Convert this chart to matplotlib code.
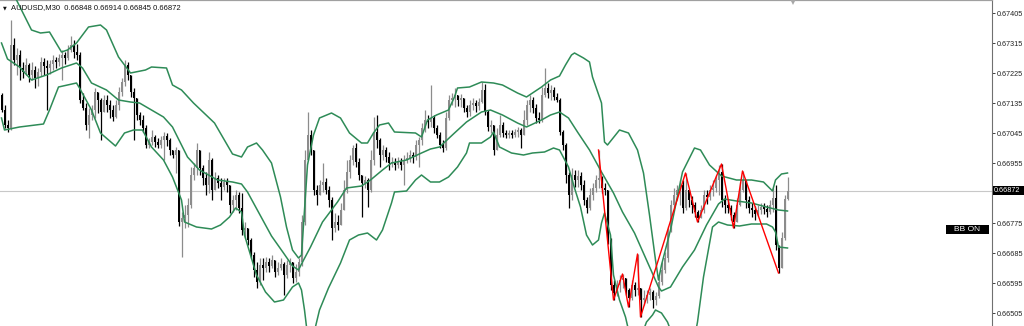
import numpy as np
import matplotlib
matplotlib.use("Agg")
import matplotlib.pyplot as plt
from matplotlib.patches import Rectangle
import matplotlib.transforms as mtransforms

symbol = "AUDUSD,M30"
first_open = 0.67159

close = [
    0.67114, 0.67069, 0.67060, 0.67309, 0.67264, 0.67279, 0.67240, 0.67228, 0.67249, 0.67219,
    0.67234, 0.67210, 0.67228, 0.67258, 0.67246, 0.67240, 0.67252, 0.67264, 0.67258, 0.67270,
    0.67279, 0.67270, 0.67294, 0.67309, 0.67288, 0.67279, 0.67144, 0.67120, 0.67069, 0.67099,
    0.67114, 0.67168, 0.67144, 0.67108, 0.67144, 0.67129, 0.67114, 0.67093, 0.67129, 0.67168,
    0.67198, 0.67249, 0.67219, 0.67168, 0.67150, 0.67099, 0.67084, 0.67060, 0.67009, 0.67018,
    0.67033, 0.67018, 0.67009, 0.67024, 0.67036, 0.67024, 0.66994, 0.66979, 0.66994, 0.66778,
    0.66790, 0.66799, 0.66829, 0.66919, 0.66940, 0.66994, 0.66940, 0.66910, 0.66889, 0.66964,
    0.66874, 0.66910, 0.66895, 0.66883, 0.66898, 0.66889, 0.66829, 0.66844, 0.66859, 0.66820,
    0.66754, 0.66760, 0.66724, 0.66679, 0.66634, 0.66598, 0.66649, 0.66640, 0.66658, 0.66646,
    0.66664, 0.66628, 0.66640, 0.66652, 0.66619, 0.66649, 0.66658, 0.66610, 0.66628, 0.66658,
    0.66778, 0.66964, 0.67039, 0.66994, 0.66874, 0.66859, 0.66889, 0.66898, 0.66874, 0.66844,
    0.66760, 0.66778, 0.66769, 0.66814, 0.66874, 0.66928, 0.66964, 0.67000, 0.66958, 0.66919,
    0.66895, 0.66904, 0.66874, 0.66964, 0.67048, 0.67024, 0.66979, 0.66994, 0.66973, 0.66955,
    0.66958, 0.66949, 0.66958, 0.66949, 0.66964, 0.66970, 0.66979, 0.66973, 0.67009, 0.67024,
    0.67060, 0.67084, 0.67078, 0.67090, 0.67060, 0.67039, 0.67009, 0.67000, 0.67090, 0.67144,
    0.67150, 0.67159, 0.67144, 0.67150, 0.67120, 0.67108, 0.67129, 0.67135, 0.67126, 0.67138,
    0.67174, 0.67108, 0.67063, 0.67069, 0.66994, 0.67039, 0.67069, 0.67045, 0.67039, 0.67045,
    0.67039, 0.67048, 0.67054, 0.67039, 0.67084, 0.67129, 0.67144, 0.67120, 0.67090, 0.67084,
    0.67159, 0.67180, 0.67165, 0.67174, 0.67153, 0.67144, 0.67048, 0.67009, 0.66919, 0.66859,
    0.66919, 0.66904, 0.66916, 0.66889, 0.66844, 0.66820, 0.66859, 0.66880, 0.66904, 0.66910,
    0.66880, 0.66874, 0.66724, 0.66589, 0.66565, 0.66589, 0.66604, 0.66610, 0.66574, 0.66550,
    0.66589, 0.66574, 0.66580, 0.66544, 0.66550, 0.66559, 0.66568, 0.66544, 0.66556, 0.66598,
    0.66634, 0.66670, 0.66754, 0.66829, 0.66859, 0.66874, 0.66889, 0.66820, 0.66874, 0.66844,
    0.66829, 0.66808, 0.66790, 0.66814, 0.66859, 0.66853, 0.66874, 0.66880, 0.66904, 0.66928,
    0.66844, 0.66829, 0.66820, 0.66799, 0.66778, 0.66829, 0.66874, 0.66904, 0.66844, 0.66820,
    0.66814, 0.66802, 0.66814, 0.66823, 0.66817, 0.66808, 0.66829, 0.66850, 0.66709, 0.66640,
    0.66730, 0.66848, 0.66872,
]

high = [
    0.67165, 0.67129, 0.67084, 0.67384, 0.67330, 0.67300, 0.67294, 0.67258, 0.67270, 0.67255,
    0.67258, 0.67246, 0.67240, 0.67273, 0.67270, 0.67264, 0.67264, 0.67279, 0.67273, 0.67282,
    0.67294, 0.67288, 0.67309, 0.67336, 0.67324, 0.67312, 0.67288, 0.67165, 0.67135, 0.67120,
    0.67129, 0.67180, 0.67168, 0.67150, 0.67159, 0.67159, 0.67144, 0.67129, 0.67144, 0.67183,
    0.67210, 0.67264, 0.67258, 0.67219, 0.67180, 0.67150, 0.67108, 0.67099, 0.67069, 0.67030,
    0.67054, 0.67039, 0.67030, 0.67036, 0.67048, 0.67045, 0.67030, 0.66994, 0.67003, 0.66994,
    0.66808, 0.66829, 0.66850, 0.66943, 0.66955, 0.67015, 0.66994, 0.66949, 0.66928, 0.66988,
    0.66970, 0.66928, 0.66919, 0.66910, 0.66910, 0.66910, 0.66889, 0.66859, 0.66874, 0.66868,
    0.66865, 0.66778, 0.66760, 0.66730, 0.66688, 0.66658, 0.66670, 0.66670, 0.66673, 0.66670,
    0.66679, 0.66664, 0.66658, 0.66670, 0.66658, 0.66664, 0.66670, 0.66658, 0.66652, 0.66670,
    0.66799, 0.66994, 0.67108, 0.67054, 0.66994, 0.66889, 0.66904, 0.66955, 0.66910, 0.66886,
    0.66853, 0.66805, 0.66799, 0.66835, 0.66904, 0.66964, 0.66979, 0.67009, 0.67015, 0.66970,
    0.66919, 0.66916, 0.66910, 0.66994, 0.67093, 0.67099, 0.67030, 0.67009, 0.67003, 0.66988,
    0.66973, 0.66970, 0.66973, 0.66970, 0.66979, 0.66988, 0.66994, 0.66988, 0.67024, 0.67033,
    0.67075, 0.67114, 0.67099, 0.67189, 0.67099, 0.67069, 0.67048, 0.67024, 0.67108, 0.67159,
    0.67165, 0.67180, 0.67159, 0.67162, 0.67150, 0.67129, 0.67144, 0.67150, 0.67144, 0.67150,
    0.67198, 0.67192, 0.67114, 0.67084, 0.67069, 0.67060, 0.67099, 0.67078, 0.67054, 0.67054,
    0.67054, 0.67057, 0.67063, 0.67060, 0.67114, 0.67144, 0.67159, 0.67153, 0.67132, 0.67108,
    0.67183, 0.67240, 0.67195, 0.67189, 0.67183, 0.67165, 0.67150, 0.67054, 0.67015, 0.66928,
    0.66940, 0.66934, 0.66934, 0.66928, 0.66904, 0.66853, 0.66880, 0.66895, 0.66919, 0.66994,
    0.66916, 0.66895, 0.66874, 0.66730, 0.66604, 0.66604, 0.66619, 0.66622, 0.66610, 0.66580,
    0.66604, 0.66598, 0.66682, 0.66574, 0.66574, 0.66574, 0.66580, 0.66574, 0.66568, 0.66616,
    0.66658, 0.66688, 0.66766, 0.66844, 0.66880, 0.66889, 0.66904, 0.66904, 0.66925, 0.66868,
    0.66856, 0.66838, 0.66814, 0.66829, 0.66874, 0.66874, 0.66889, 0.66904, 0.66919, 0.66949,
    0.66952, 0.66859, 0.66844, 0.66829, 0.66808, 0.66850, 0.66898, 0.66931, 0.66898, 0.66856,
    0.66835, 0.66826, 0.66829, 0.66835, 0.66835, 0.66829, 0.66844, 0.66880, 0.66889, 0.66709,
    0.66748, 0.66859, 0.66914,
]

low = [
    0.67108, 0.67060, 0.67048, 0.67054, 0.67249, 0.67219, 0.67204, 0.67210, 0.67219, 0.67198,
    0.67204, 0.67180, 0.67186, 0.67216, 0.67219, 0.67114, 0.67222, 0.67234, 0.67240, 0.67246,
    0.67204, 0.67252, 0.67264, 0.67288, 0.67270, 0.67264, 0.67135, 0.67114, 0.67054, 0.67030,
    0.67084, 0.67090, 0.67105, 0.67024, 0.67108, 0.67108, 0.67090, 0.67081, 0.67090, 0.67114,
    0.67156, 0.67186, 0.67204, 0.67153, 0.67024, 0.67084, 0.67069, 0.67048, 0.67000, 0.67000,
    0.67009, 0.67003, 0.67000, 0.67000, 0.66964, 0.67006, 0.66979, 0.66970, 0.66925, 0.66766,
    0.66673, 0.66760, 0.66763, 0.66820, 0.66904, 0.66919, 0.66919, 0.66889, 0.66859, 0.66865,
    0.66844, 0.66874, 0.66880, 0.66844, 0.66874, 0.66868, 0.66805, 0.66808, 0.66814, 0.66805,
    0.66739, 0.66730, 0.66709, 0.66670, 0.66613, 0.66580, 0.66589, 0.66604, 0.66628, 0.66628,
    0.66640, 0.66613, 0.66619, 0.66634, 0.66559, 0.66610, 0.66628, 0.66595, 0.66598, 0.66616,
    0.66646, 0.66769, 0.66964, 0.66979, 0.66859, 0.66829, 0.66859, 0.66868, 0.66862, 0.66823,
    0.66724, 0.66748, 0.66754, 0.66778, 0.66814, 0.66865, 0.66910, 0.66949, 0.66943, 0.66904,
    0.66793, 0.66880, 0.66823, 0.66868, 0.66949, 0.67000, 0.66943, 0.66964, 0.66958, 0.66934,
    0.66943, 0.66934, 0.66940, 0.66934, 0.66889, 0.66955, 0.66958, 0.66955, 0.66964, 0.66943,
    0.67009, 0.67048, 0.67060, 0.67063, 0.67045, 0.67030, 0.67000, 0.66988, 0.66994, 0.67084,
    0.67129, 0.67123, 0.67126, 0.67123, 0.67108, 0.67093, 0.67096, 0.67114, 0.67108, 0.67114,
    0.67135, 0.67099, 0.67051, 0.67045, 0.66979, 0.66994, 0.67033, 0.67033, 0.67030, 0.67030,
    0.67030, 0.67033, 0.67033, 0.67000, 0.67039, 0.67069, 0.67108, 0.67105, 0.67075, 0.67075,
    0.67078, 0.67153, 0.67150, 0.67144, 0.67144, 0.67138, 0.67039, 0.66994, 0.66895, 0.66820,
    0.66844, 0.66883, 0.66883, 0.66874, 0.66829, 0.66805, 0.66814, 0.66844, 0.66868, 0.66880,
    0.66865, 0.66859, 0.66712, 0.66574, 0.66544, 0.66556, 0.66568, 0.66580, 0.66559, 0.66523,
    0.66544, 0.66556, 0.66559, 0.66493, 0.66529, 0.66535, 0.66544, 0.66520, 0.66529, 0.66550,
    0.66589, 0.66625, 0.66658, 0.66748, 0.66820, 0.66844, 0.66829, 0.66805, 0.66814, 0.66823,
    0.66805, 0.66793, 0.66778, 0.66790, 0.66805, 0.66832, 0.66844, 0.66856, 0.66868, 0.66859,
    0.66823, 0.66805, 0.66805, 0.66784, 0.66760, 0.66778, 0.66826, 0.66868, 0.66820, 0.66805,
    0.66793, 0.66784, 0.66796, 0.66802, 0.66802, 0.66793, 0.66802, 0.66808, 0.66694, 0.66625,
    0.66640, 0.66724, 0.66845,
]

# Bollinger bands (bar index, price)
ub_idx = [0, 3, 5, 10, 13, 16, 20, 22, 25, 29, 33, 35, 39, 43, 48, 50, 55, 57, 60, 64,
          71, 77, 80, 82, 85, 87, 90, 93, 95, 97, 99, 100, 101, 102, 104, 106, 110, 113, 116, 120,
          122, 124, 126, 129, 131, 138, 140, 142, 145, 149, 151, 152, 156, 160, 164, 167, 172, 175, 180, 183,
          186, 188, 190, 191, 194, 196, 197, 200, 201, 202, 206, 209, 212, 214, 216, 218, 219, 220, 223, 227,
          231, 233, 236, 240, 245, 250, 254, 256, 257, 258, 260, 262]
ub_val = [0.67519, 0.67480, 0.67444, 0.67354, 0.67345, 0.67348, 0.67288, 0.67294, 0.67315, 0.67363,
          0.67369, 0.67354, 0.67273, 0.67225, 0.67234, 0.67243, 0.67240, 0.67189, 0.67174, 0.67135,
          0.67075, 0.66982, 0.66973, 0.67003, 0.67015, 0.66994, 0.66955, 0.66853, 0.66763, 0.66694,
          0.66670, 0.66679, 0.66814, 0.66949, 0.67039, 0.67090, 0.67105, 0.67090, 0.67045, 0.67015,
          0.67015, 0.67045, 0.67069, 0.67075, 0.67048, 0.67045, 0.67033, 0.67084, 0.67099, 0.67114,
          0.67153, 0.67180, 0.67183, 0.67198, 0.67195, 0.67189, 0.67165, 0.67153, 0.67183, 0.67204,
          0.67216, 0.67249, 0.67279, 0.67285, 0.67270, 0.67258, 0.67213, 0.67135, 0.67018, 0.67009,
          0.67054, 0.67045, 0.66994, 0.66925, 0.66799, 0.66664, 0.66604, 0.66649, 0.66754, 0.66928,
          0.67000, 0.66994, 0.66949, 0.66916, 0.66904, 0.66904, 0.66898, 0.66880, 0.66871, 0.66904,
          0.66922, 0.66925]

mb_idx = [0, 2, 6, 10, 15, 20, 25, 27, 30, 35, 39, 43, 46, 50, 54, 57, 62, 66, 72, 77,
          80, 82, 84, 88, 90, 94, 97, 99, 100, 103, 107, 112, 115, 120, 123, 127, 130, 135, 140, 143,
          146, 151, 155, 160, 163, 167, 172, 175, 180, 183, 186, 189, 192, 196, 200, 204, 207, 211, 215, 219,
          220, 223, 227, 231, 235, 239, 241, 245, 250, 255, 259, 262]
mb_val = [0.67315, 0.67267, 0.67243, 0.67204, 0.67219, 0.67240, 0.67255, 0.67240, 0.67195, 0.67174,
          0.67144, 0.67138, 0.67135, 0.67114, 0.67093, 0.67063, 0.66973, 0.66934, 0.66904, 0.66898,
          0.66892, 0.66868, 0.66835, 0.66769, 0.66736, 0.66685, 0.66646, 0.66634, 0.66652, 0.66703,
          0.66778, 0.66838, 0.66880, 0.66886, 0.66904, 0.66934, 0.66955, 0.66964, 0.66985, 0.66997,
          0.67003, 0.67045, 0.67078, 0.67108, 0.67114, 0.67099, 0.67075, 0.67063, 0.67084, 0.67099,
          0.67108, 0.67090, 0.67048, 0.66994, 0.66928, 0.66865, 0.66808, 0.66745, 0.66664, 0.66583,
          0.66571, 0.66583, 0.66643, 0.66694, 0.66769, 0.66832, 0.66847, 0.66841, 0.66835, 0.66823,
          0.66814, 0.66811]

lb_idx = [0, 1, 6, 14, 16, 19, 25, 26, 30, 33, 38, 41, 44, 47, 50, 54, 57, 60, 61, 65,
          70, 73, 76, 78, 80, 81, 83, 85, 88, 91, 94, 97, 99, 100, 101, 102, 103, 104, 106, 109,
          113, 116, 119, 122, 125, 127, 130, 131, 135, 138, 140, 143, 146, 149, 152, 155, 156, 160, 163, 164,
          166, 170, 174, 177, 181, 184, 186, 189, 191, 193, 195, 197, 199, 200, 201, 203, 204, 206, 208, 209,
          213, 215, 217, 218, 220, 222, 224, 228, 231, 232, 234, 237, 239, 242, 246, 250, 255, 257, 258, 259,
          262]
lb_val = [0.67090, 0.67054, 0.67063, 0.67072, 0.67114, 0.67183, 0.67195, 0.67180, 0.67114, 0.67045,
          0.67006, 0.67045, 0.67054, 0.67054, 0.67003, 0.66964, 0.66913, 0.66844, 0.66778, 0.66763,
          0.66757, 0.66769, 0.66793, 0.66820, 0.66808, 0.66739, 0.66679, 0.66619, 0.66568, 0.66538,
          0.66544, 0.66583, 0.66595, 0.66574, 0.66514, 0.66439, 0.66400, 0.66439, 0.66514, 0.66580,
          0.66655, 0.66724, 0.66739, 0.66745, 0.66724, 0.66754, 0.66835, 0.66868, 0.66871, 0.66904,
          0.66919, 0.66898, 0.66898, 0.66913, 0.66943, 0.66985, 0.67015, 0.67015, 0.67033, 0.67048,
          0.67003, 0.66985, 0.66979, 0.66985, 0.66988, 0.67000, 0.66994, 0.66943, 0.66880, 0.66823,
          0.66739, 0.66709, 0.66724, 0.66775, 0.66805, 0.66739, 0.66619, 0.66544, 0.66493, 0.66454,
          0.66430, 0.66478, 0.66499, 0.66514, 0.66505, 0.66478, 0.66430, 0.66394, 0.66430, 0.66478,
          0.66613, 0.66763, 0.66778, 0.66769, 0.66766, 0.66772, 0.66772, 0.66763, 0.66748, 0.66703,
          0.66700]

# ZigZag vertices (bar index, price)
zz_idx = [199, 204, 207, 209, 212, 213, 228, 232, 240, 244, 247, 259]
zz_val = [0.66994, 0.66544, 0.66622, 0.66523, 0.66682, 0.66493, 0.66925, 0.66778, 0.66952, 0.66760,
          0.66931, 0.66625]

price_ticks = [0.66505, 0.66595, 0.66685, 0.66775, 0.66865, 0.66955, 0.67045, 0.67135,
               0.67225, 0.67315, 0.67405]
badge_text = "BB ON"

# ---------------------------------------------------------------
W, H = 1024, 326
fig = plt.figure(figsize=(W / 100, H / 100), dpi=100)
fig.patch.set_facecolor("white")
axr = 992
ax = fig.add_axes([0, 0, axr / W, 1])
ax.set_facecolor("white")

c = np.array(close)
h = np.array(high)
l = np.array(low)
o = np.concatenate([[first_open], c[:-1]])
h = np.maximum(h, np.maximum(o, c))
l = np.minimum(l, np.minimum(o, c))
x = np.arange(len(c))
up = c >= o
col = np.where(up, "#8c8c8c", "#000000")

ax.axhline(c[-1], color="#c8c8c8", lw=0.8, zorder=1)
ax.vlines(x, l, h, colors=col, linewidth=0.9, zorder=2)
body = np.maximum(np.abs(c - o), 0.00002)
ax.bar(x, body, bottom=np.minimum(o, c), width=0.62, color=col, linewidth=0, zorder=3)

green = "#2e8b57"
for bi, bv in ((ub_idx, ub_val), (mb_idx, mb_val), (lb_idx, lb_val)):
    ax.plot(bi, bv, color=green, lw=1.1, zorder=4, solid_joinstyle="round")

ax.plot(zz_idx, zz_val, color="#ff0000", lw=1.0, zorder=5)

ax.set_xlim(-0.5, -0.5 + axr / 3.0)
ax.set_ylim(0.67444 - H * 0.00003, 0.67444)

ax.set_xticks([])
ax.yaxis.tick_right()
ax.set_yticks(price_ticks)
# the label of the tick nearest the last price is covered by the price box
ax.set_yticklabels(["" if abs(t - c[-1]) < 0.0002 else f"{t:.5f}" for t in price_ticks])
ax.tick_params(axis="y", direction="out", length=2.5, width=0.6, pad=0.8,
               labelsize=5.2, colors="#222222")
for lab in ax.get_yticklabels():
    lab.set_fontfamily("Liberation Sans")

for s in ("left", "bottom"):
    ax.spines[s].set_visible(False)
ax.spines["right"].set_color("#707070")
ax.spines["right"].set_linewidth(0.8)
ax.spines["top"].set_color("#a0a0a0")
ax.spines["top"].set_linewidth(1.6)

# header
fig.text(3 / W, 1 - 7.5 / H, "\u25BC", fontsize=3.5, va="center", ha="left",
         family="DejaVu Sans", color="#111111")
fig.text(11 / W, 1 - 7.5 / H,
         f"{symbol}  {o[-1]:.5f} {h[-1]:.5f} {l[-1]:.5f} {c[-1]:.5f}",
         fontsize=5.5, va="center", ha="left", family="Liberation Sans", color="#111111")

# chart shift marker
ax.plot([793 / axr], [1 - 1.5 / H], marker="v", ms=5, color="#a8a8a8",
        transform=ax.transAxes, clip_on=False, zorder=6, markeredgewidth=0)

# current price box on the price scale
blend = mtransforms.blended_transform_factory(fig.transFigure, ax.transData)
box_h = 9 * 0.00003
fig.add_artist(Rectangle((993 / W, c[-1] - box_h / 2), 31 / W, box_h,
                         transform=blend, facecolor="black", edgecolor="none", zorder=5))
fig.text(994 / W, c[-1], f"{c[-1]:.5f}", transform=blend, fontsize=5.2,
         va="center", ha="left", color="white", family="Liberation Sans", zorder=6)

# BB ON badge
fig.add_artist(Rectangle((946 / W, 1 - 234 / H), 43 / W, 9 / H,
                         transform=fig.transFigure, facecolor="black", edgecolor="none", zorder=5))
fig.text(967.5 / W, 1 - 229.5 / H, badge_text, fontsize=6, va="center", ha="center",
         color="white", family="Liberation Sans", zorder=6)

fig.savefig("out.png", dpi=100, facecolor="white")
